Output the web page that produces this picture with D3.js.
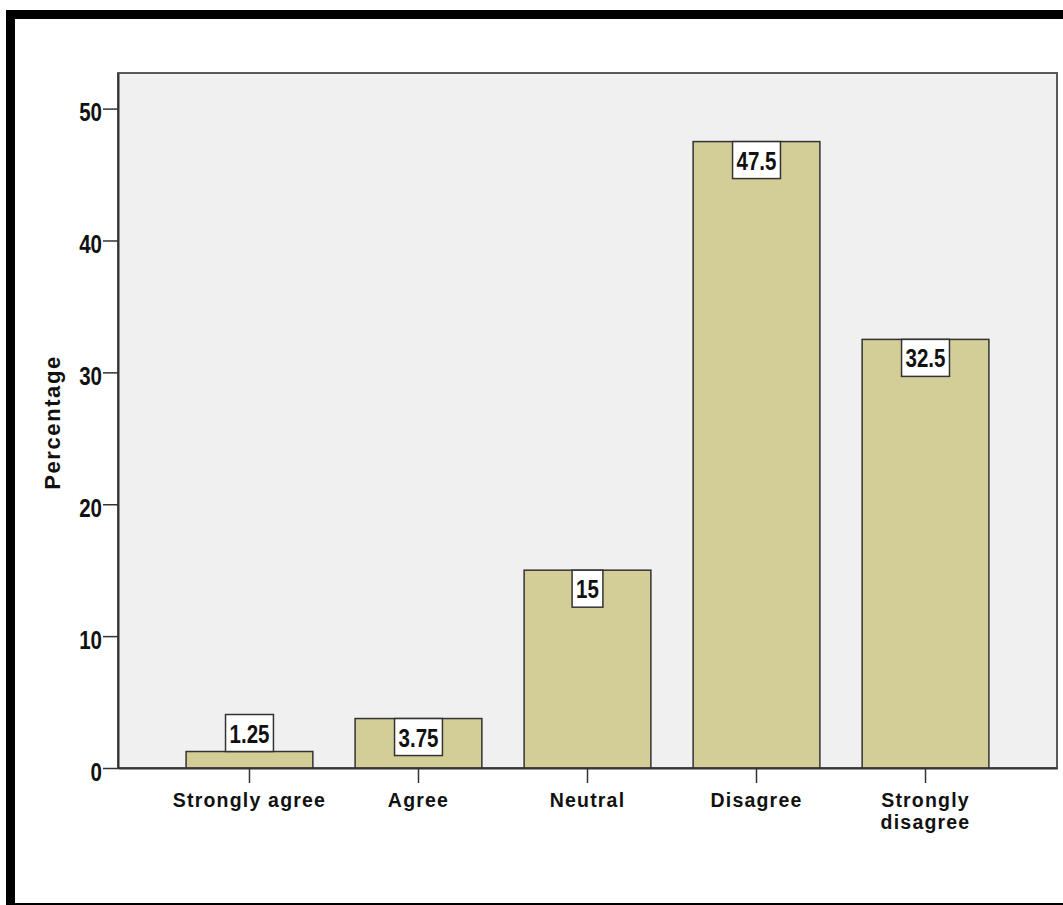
<!DOCTYPE html>
<html>
<head>
<meta charset="utf-8">
<script src="https://cdn.jsdelivr.net/npm/d3@7"></script>
<style>
  html, body { margin: 0; padding: 0; background: #fff; }
  svg { display: block; }
</style>
</head>
<body>
<svg id="chart" width="1063" height="905"></svg>
<script>
// Response categories and their share of respondents (%)
const categories = ["Strongly agree", "Agree", "Neutral", "Disagree", "Strongly disagree"];
const percentages = [1.25, 3.75, 15, 47.5, 32.5];
const valueLabels = ["1.25", "3.75", "15", "47.5", "32.5"];
const yTicks = [0, 10, 20, 30, 40, 50];

const W = 1063, H = 905;
const plot = { left: 118, top: 73, right: 1057, bottom: 768 };

const font = "'Liberation Sans', Arial, sans-serif";
const narrow = 0.82; // horizontal squeeze for the numeric labels

const svg = d3.select("#chart");

// Outer frame: heavy black bars on top and left, thin rule at the bottom
svg.append("rect").attr("x", 6).attr("y", 10).attr("width", W - 6).attr("height", 9).attr("fill", "#000");
svg.append("rect").attr("x", 6).attr("y", 10).attr("width", 9).attr("height", H - 10).attr("fill", "#000");
svg.append("rect").attr("x", 6).attr("y", 903).attr("width", W - 6).attr("height", 2).attr("fill", "#000");

const x = d3.scaleBand()
  .domain(categories)
  .range([plot.left, plot.right])
  .paddingInner(0.25)
  .paddingOuter(0.403);

const y = d3.scaleLinear()
  .domain([0, 52.7])
  .range([plot.bottom, plot.top]);

// Plot background and border
svg.append("rect")
  .attr("x", plot.left).attr("y", plot.top)
  .attr("width", plot.right - plot.left).attr("height", plot.bottom - plot.top)
  .attr("fill", "#f0f0f0")
  .attr("stroke", "#5a5a5a").attr("stroke-width", 2);

// Bars
const data = categories.map((c, i) => ({ cat: c, value: percentages[i], label: valueLabels[i] }));

svg.append("g").selectAll("rect")
  .data(data)
  .join("rect")
  .attr("x", d => x(d.cat))
  .attr("y", d => y(d.value))
  .attr("width", x.bandwidth())
  .attr("height", d => y(0) - y(d.value))
  .attr("fill", "#d3ce97")
  .attr("stroke", "#333")
  .attr("stroke-width", 1.5);

// Y axis
const yAxis = d3.axisLeft(y).tickValues(yTicks).tickSize(15).tickSizeOuter(0).tickFormat(d3.format("d"));
const gy = svg.append("g").attr("transform", `translate(${plot.left},0)`).call(yAxis);
gy.select(".domain").attr("stroke", "#333").attr("stroke-width", 2);
gy.selectAll(".tick line").attr("stroke", "#333").attr("stroke-width", 1.5);
gy.selectAll(".tick text")
  .attr("x", null)
  .attr("dy", null)
  .attr("transform", `translate(-16,12) scale(${narrow},1)`)
  .attr("fill", "#111")
  .style("font-family", font)
  .style("font-weight", "bold")
  .style("font-size", "25px");

// X axis
const xAxis = d3.axisBottom(x).tickSize(15).tickSizeOuter(0).tickPadding(10);
const gx = svg.append("g").attr("transform", `translate(0,${plot.bottom})`).call(xAxis);
gx.select(".domain").attr("stroke", "#333").attr("stroke-width", 2);
gx.selectAll(".tick line").attr("stroke", "#333").attr("stroke-width", 1.5);
gx.selectAll(".tick text")
  .attr("fill", "#111")
  .style("font-family", font)
  .style("font-weight", "bold")
  .style("font-size", "19.5px")
  .style("letter-spacing", "1.2px")
  .text(null)
  .each(function(d) {
    const t = d3.select(this);
    const lines = d === "Strongly disagree" ? ["Strongly", "disagree"] : [d];
    lines.forEach((ln, i) => {
      t.append("tspan").attr("x", 0).attr("dy", i === 0 ? "0.71em" : "22px").text(ln);
    });
  });

// Y axis title
svg.append("text")
  .attr("transform", `translate(60,${(plot.top + plot.bottom) / 2 + 2}) rotate(-90)`)
  .attr("text-anchor", "middle")
  .attr("fill", "#111")
  .style("font-family", font)
  .style("font-weight", "bold")
  .style("font-size", "22px")
  .style("letter-spacing", "1.6px")
  .text("Percentage");

// Value labels in boxes: inside the top of the bar when it fits, otherwise above it
const boxH = 37, padX = 4;
const lab = svg.append("g").selectAll("g")
  .data(data)
  .join("g");

lab.append("text")
  .attr("text-anchor", "middle")
  .attr("fill", "#111")
  .style("font-family", font)
  .style("font-weight", "bold")
  .style("font-size", "25px")
  .text(d => d.label);

lab.each(function(d) {
  const g = d3.select(this);
  const tw = g.select("text").node().getComputedTextLength() * narrow;
  const cx = x(d.cat) + x.bandwidth() / 2;
  const barH = y(0) - y(d.value);
  const top = barH >= boxH ? y(d.value) : y(d.value) - boxH;
  g.insert("rect", "text")
    .attr("x", cx - tw / 2 - padX)
    .attr("y", top)
    .attr("width", tw + padX * 2)
    .attr("height", boxH)
    .attr("fill", "#fff")
    .attr("stroke", "#333")
    .attr("stroke-width", 1.5);
  g.select("text").attr("transform", `translate(${cx},${top + 28}) scale(${narrow},1)`);
});
</script>
</body>
</html>
